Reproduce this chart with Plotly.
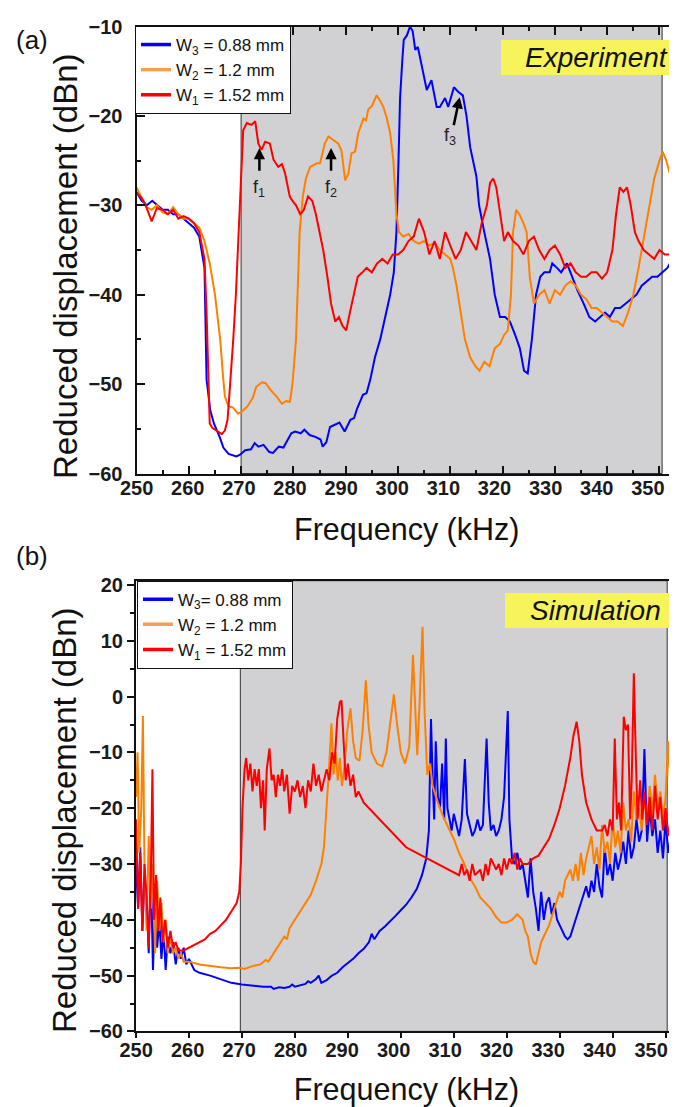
import plotly.graph_objects as go

# ---------------- data (frequency kHz, reduced displacement dBn) ----------------
exp_w3 = [(250,-28.5),(251,-29.5),(252,-30),(253,-29.5),(254,-30),(255,-30.5),(256,-30.5),(257,-31),(258,-31),(259,-31.5),
          (260,-32),(261,-32.5),(262,-33.5),(263,-37),(263.4,-49.5),(264.1,-52.9),(264.8,-54.4),(265.9,-55.9),(266.6,-57.1),
          (267.6,-57.8),(269.1,-58.1),(269.8,-57.9),(270.8,-57.4),(271.9,-57.3),(272.6,-56.6),(273.3,-57),(274.3,-56.8),
          (275.4,-57.6),(276.1,-57.7),(277.2,-57),(278.1,-57.1),(278.6,-56.6),(279.6,-55.5),(280.3,-55.3),(281.4,-55.5),
          (282.1,-55.1),(283.1,-55.7),(284.2,-55.9),(285.2,-56.2),(285.6,-57),(286.3,-56.5),(287,-54.8),(288.8,-54.3),
          (289.8,-55.3),(290.9,-54),(291.6,-53.8),(292.2,-52.7),(293.3,-51.2),(294,-51),(294.7,-49.5),(295.6,-47),(296.6,-45),
          (297.5,-42.5),(298.5,-40),(299.2,-37.5),(299.7,-33),(300.1,-25),(300.4,-18),(300.8,-14),(301.1,-11.5),(301.7,-11),
          (302.3,-10),(302.8,-10.5),(303.3,-12.6),(303.8,-12.3),(304.6,-14.5),(305.5,-17.1),(306.4,-16),(307.4,-19),(308,-19),
          (309,-18),(309.6,-19),(310.7,-16.8),(311.5,-17.3),(312.4,-17.7),(313.1,-20),(313.8,-23.5),(315,-26.8),(315.5,-30),
          (316.5,-33),(317.6,-36),(318.5,-40),(319.5,-42.5),(320.5,-42.5),(321.4,-43),(322.4,-44.5),(323.3,-46),(324.1,-48.5),
          (324.8,-48.8),(325.6,-45),(326.4,-40),(327.2,-38),(328,-37.5),(329,-37.5),(329.5,-36.5),(330.4,-37),(331.2,-37.5),
          (332.3,-36.5),(333.3,-38),(334.3,-39.5),(335.5,-41),(336.6,-42.5),(337.7,-43),(338.6,-42.5),(339.6,-42),(340.5,-42.5),
          (341.5,-41.5),(342.5,-41.5),(343.5,-41),(344.6,-40.5),(345.6,-40),(346.6,-39),(347.6,-38.5),(348.6,-38),(349.6,-38),
          (350.5,-37.5),(351.5,-37),(352.5,-36),(353.4,-34.5)]

exp_w2 = [(250,-28),(251,-29.2),(251.9,-30.2),(252.9,-30.5),(253.9,-30),(255,-30.8),(256,-31),(257,-30.2),(258,-31),(259,-31.5),
          (260,-31.5),(261,-32),(262,-32.5),(263,-34),(264,-36.5),(265,-40),(266,-45),(266.6,-49.5),(266.9,-51.4),(267.6,-52.5),
          (268.4,-52.6),(269.4,-53.3),(270.1,-53.1),(271.2,-52.5),(272.2,-51.6),(272.9,-50.3),(274,-49.8),(274.7,-49.9),
          (275.7,-50.7),(276.8,-51.4),(277.8,-52.2),(278.6,-51.9),(279.3,-52),(279.6,-51),(279.9,-49.5),(280.5,-45),(280.9,-38),
          (281.2,-33),(281.8,-29),(282.4,-27),(283.2,-25.7),(283.8,-25.5),(284.5,-25.3),(285.1,-25.3),(286,-23.1),(286.7,-22.3),
          (287.6,-22.7),(288.6,-23.1),(289.2,-23.9),(289.9,-27.2),(290.5,-26.5),(291.1,-24.2),(291.8,-24),(292.4,-21.9),
          (293.4,-20.3),(293.9,-20.5),(294.3,-19.3),(295,-18.9),(295.9,-17.7),(296.6,-18.3),(297.2,-19),(297.8,-20.1),
          (298.5,-21.9),(299.1,-24.9),(299.4,-27.8),(299.7,-31),(300.2,-33),(301,-33.5),(302,-33.2),(303,-34),(304,-34.3),
          (305,-34),(306,-34.5),(307,-34.2),(308,-35),(309,-35.5),(310,-36),(310.5,-37),(311.2,-39),(312,-42),(312.8,-45),
          (313.8,-47),(314.8,-48),(315.6,-48.5),(316.5,-47.5),(317.5,-48),(318.5,-46),(319.5,-45.5),(320.3,-44.5),(321,-44),
          (321.6,-40),(322,-33),(322.6,-30.5),(323.2,-31),(324,-32),(324.6,-33),(325.2,-38),(326,-41),(327,-40),(328,-39.5),
          (329,-41),(330,-39.5),(331,-40),(332,-39),(333,-38.5),(334,-39),(335,-40),(336,-40.5),(337,-41.5),(338,-41.5),
          (339,-42),(340,-42.5),(341,-43),(342,-43),(343,-43.5),(344,-42),(345,-40),(346,-37),(347,-33.5),(348,-30),
          (349,-27),(350,-25),(350.6,-24),(351.3,-25),(352,-26.5),(352.6,-27.2),(353.4,-28)]

exp_w1 = [(250,-28.6),(251,-29.2),(251.6,-29.8),(252.9,-31.8),(253.9,-30.3),(255,-30.5),(256,-31),(257,-30.5),(258,-31.5),
          (259,-31.2),(260,-31.5),(261,-32),(262,-33),(263,-36),(263.4,-42),(263.8,-52.5),(264,-54.4),(264.5,-54.9),
          (265.5,-55.3),(266.3,-55.6),(266.9,-55.2),(267.4,-54),(267.6,-52.5),(268,-49.5),(268.5,-45),(269,-40),(269.4,-35),
          (269.8,-29.4),(270.1,-24.6),(270.4,-21.6),(271.1,-20.8),(272,-21),(272.7,-20.6),(273.3,-23.1),(273.9,-23.8),
          (274.6,-22.9),(275.5,-23.1),(276.2,-24.9),(277.1,-25.7),(277.8,-25.4),(278.4,-26.4),(279.3,-29),(279.7,-29.4),
          (280.5,-30),(281.3,-31),(282,-30.5),(282.8,-29),(283.6,-29.5),(284.3,-31),(285,-33),(285.7,-35),(286.5,-38),
          (287.2,-41),(288,-43),(288.7,-42.5),(289.4,-43.5),(290.1,-44),(290.8,-42),(291.5,-40),(292.3,-38),(293.2,-37.5),
          (294,-37),(295,-37.5),(296,-36.5),(297,-36),(298,-36.5),(299,-35.5),(300,-35.5),(301,-35),(302,-34),(303,-33.5),
          (304,-31.5),(305,-33),(306,-35.5),(307,-34),(308,-36),(309,-33),(310,-34.5),(311,-36),(312,-35),(313,-33),(314,-34),
          (315,-35),(316,-32),(317,-30),(317.6,-27.5),(318.2,-27),(318.8,-28),(319.5,-31),(320.3,-34),(321,-33),(322,-34),
          (323,-34.5),(324,-35.5),(325,-34),(326,-33.5),(327,-35),(328,-36),(329,-35),(330,-34.5),(331,-35.5),(332,-37),
          (333,-36.5),(334,-37.5),(335,-38),(336,-38),(337,-37.5),(338,-37.5),(339,-38.2),(340,-37.5),(341,-35),(341.7,-31),
          (342.4,-28),(343.1,-28.5),(343.8,-28),(344.5,-30),(345.3,-33),(346,-34),(347,-35),(348,-35.5),(349,-36),(350,-35),
          (351,-35.5),(352,-35.5),(353.4,-35.5)]

sim_w3 = [(250,-30),(250.4,-38),(250.8,-27),(251.2,-42),(251.6,-33),(252,-36),(252.4,-46),(252.8,-30),(253.2,-49),(253.6,-38),
          (254,-45),(254.4,-40),(254.8,-47),(255.2,-42),(255.6,-49),(256,-43),(256.5,-46),(257,-44),(257.5,-48),(258,-45),
          (258.5,-47),(259,-45),(259.5,-48),(260,-47),(261,-49),(262,-49.5),(264,-50),(266,-50.7),(268,-51.3),(270,-51.6),
          (272,-51.8),(274,-52),(275.5,-52),(276,-52.4),(277,-52.1),(278,-52.2),(279,-52),(279.5,-51.6),(280,-52),(281,-51.8),
          (282,-51.5),(282.5,-51),(283,-51.3),(284,-50.6),(284.5,-50),(285,-51.3),(286,-50.8),(287,-50),(288,-49.5),(289,-48.5),
          (290,-47.8),(291,-47),(292,-46),(293,-45.2),(294,-44),(294.5,-42.5),(295,-43.5),(296,-42),(297,-41.2),(298,-40.3),
          (299,-39.3),(300,-38.3),(301,-37.3),(302,-36),(303,-34.5),(304,-32),(304.8,-29),(305.3,-24),(305.7,-4),(306,-14),
          (306.3,-22),(306.6,-8),(307,-18),(307.4,-20),(307.8,-12),(308.2,-22),(308.5,-7.5),(308.8,-20),(309.2,-22),(309.6,-24),
          (310,-21),(310.5,-23),(311,-25),(311.5,-22),(312.1,-11.2),(312.5,-21),(313,-23),(313.5,-25),(314,-24),(314.5,-22),
          (315,-24),(315.5,-23),(316.2,-7.5),(316.6,-19),(317,-24),(317.5,-23),(318,-25),(318.5,-24),(319,-22),(319.5,-18),
          (320.2,-2.6),(320.5,-22),(321,-29),(321.5,-30),(322,-28),(322.5,-31),(323,-30),(323.5,-33),(324,-36),(324.5,-29),
          (325,-35),(325.5,-38),(326,-42),(326.5,-35),(327,-40),(327.5,-37),(328,-36),(328.5,-39),(329,-37),(329.5,-40),
          (330,-41),(331,-43),(331.5,-43.5),(332,-43),(333,-40),(334,-37),(335,-34),(335.5,-36),(336,-33),(336.5,-35),
          (337,-30),(337.5,-34),(338,-36),(338.5,-27),(339,-32),(339.5,-30),(340,-33),(340.5,-28),(341,-31),(341.5,-29),
          (342,-26),(342.5,-30),(343,-24),(343.5,-29),(344,-27),(344.5,-22),(345,-26),(345.5,-24),(346,-9.4),(346.5,-26),
          (347,-20),(347.5,-25),(348,-22),(348.5,-28),(349,-24),(349.5,-29),(350,-22),(350.5,-28),(351,-25),(351.5,-22),(352.2,-24)]

sim_w2 = [(250,-18),(250.3,-10),(250.6,-28),(251,-20),(251.3,-3.5),(251.6,-30),(252,-42),(252.4,-25),(252.8,-38),(253.2,-30),
          (253.6,-46),(254,-33),(254.4,-42),(254.8,-37),(255.2,-44),(255.6,-40),(256,-46),(256.5,-43),(257,-46),(257.5,-45),
          (258,-47),(258.5,-46),(259,-47.5),(260,-47.5),(262,-48),(264,-48.3),(266,-48.5),(268,-48.7),(269.5,-48.6),
          (270.5,-48.8),(272,-48.3),(273.5,-48),(274.5,-47.2),(275,-47.5),(276,-46),(277,-44.5),(278,-43),(278.5,-43.5),
          (279,-41.5),(280,-40),(281,-38.5),(282,-37),(283,-35.5),(284,-33),(285,-30),(285.5,-27),(286,-20),(286.5,-12),
          (286.9,-4.8),(287.3,-14),(287.7,-10),(288.1,-15),(288.5,-11),(288.9,-16),(289.4,-12),(289.9,-6),(290.5,-2.1),
          (291,-8),(291.5,-11),(292.2,-11.5),(292.8,-6),(293.4,2.9),(293.9,-5),(294.5,-10),(295.5,-12),(296.5,-12.5),
          (297.3,-10),(298,-5),(298.7,0.4),(299.3,-5),(300,-10),(300.8,-12),(301.6,-9),(302.3,7.5),(302.7,-3),(303.1,-10.5),
          (303.6,0),(304.1,12.5),(304.5,-3),(305,-14),(305.5,-12),(306,-16),(307,-19),(308,-21.5),(309,-23.5),(310,-25.5),
          (311,-28),(312,-30),(313,-32.5),(314,-34),(315,-36),(316,-37),(317,-38),(318,-39.5),(319,-40.5),(320,-40.5),
          (321,-40),(322,-39),(323,-40),(323.5,-42),(324,-43),(324.5,-46),(325,-47.5),(325.5,-48),(326,-46),(326.5,-44),
          (327,-43),(328,-41),(329,-38),(330,-35),(330.5,-36),(331,-33),(332,-31),(332.5,-33),(333,-30),(333.5,-33),(334,-28),
          (334.5,-32),(335,-29),(336,-25),(336.5,-30),(337,-27),(337.5,-31),(338,-23),(338.5,-28),(339,-26),(339.5,-30),
          (340,-22),(340.5,-27),(341,-24),(341.5,-28),(342,-19),(342.5,-24),(343,-22),(343.5,-26),(344,-17),(344.5,-22),
          (345,-20),(345.5,-24),(346,-18),(346.5,-22),(347,-16),(347.5,-21),(348,-14),(348.5,-20),(349,-17),(349.5,-22),
          (350,-18),(350.5,-8),(351,-19),(351.5,-12),(352,-1),(352.2,-6)]

sim_w1 = [(250,-22),(250.4,-38),(250.8,-28),(251.2,-42),(251.6,-30),(252,-36),(252.4,-45),(252.8,-32),(253.1,-13),(253.4,-40),
          (253.8,-32),(254.2,-42),(254.6,-36),(255,-44),(255.5,-40),(256,-45),(256.5,-42),(257,-45),(257.5,-44),(258,-45.5),
          (259,-45.5),(260,-45),(261,-44.5),(262,-44),(263,-43.5),(264,-42.5),(265,-42),(266,-41),(267,-40),(268,-38.5),
          (269,-37),(269.5,-35),(269.8,-30),(270.1,-20),(270.5,-13),(270.8,-11),(271.2,-15),(271.6,-12),(272,-17),(272.4,-13),
          (272.8,-16),(273.2,-13),(273.6,-20),(274,-15),(274.3,-24),(274.7,-13),(275.2,-9.3),(275.6,-15),(276,-14),(276.4,-18),
          (276.8,-14),(277.2,-16),(277.6,-13),(278,-17),(278.5,-14),(279,-21),(279.5,-16),(280,-17),(280.5,-15),(281,-18),
          (281.5,-16),(282,-20),(282.5,-15),(283,-17),(283.5,-12),(284,-16),(284.5,-14),(285,-17),(285.5,-15),(286,-13),
          (286.5,-15),(287,-10),(287.5,-12),(288,-4),(288.5,-1),(288.8,-0.7),(289.2,-8),(289.6,-15),(290,-12),(290.5,-16),
          (291,-14),(291.5,-18),(292,-17),(293,-19),(294,-20),(295,-21),(296,-22),(297,-23),(298,-24),(299,-25),(300,-26),
          (301,-27),(302,-27.5),(303,-28),(304,-28.5),(305,-29),(306,-29.5),(307,-30),(308,-30.5),(309,-31),(310,-31.5),
          (311,-32),(311.5,-30),(312,-32),(312.5,-31),(313,-33),(313.5,-30),(314,-32),(315,-31),(315.5,-33),(316,-30),
          (316.5,-32),(317,-29),(318,-31),(318.5,-30),(319,-32),(319.5,-29),(320,-31),(320.5,-29),(321,-30),(321.5,-28),
          (322,-31),(322.5,-29),(323,-30),(324,-30),(325,-29),(326,-28.5),(327,-27),(328,-25.5),(329,-23),(330,-20),(331,-16),
          (332,-11),(332.6,-7),(333.2,-4.5),(333.7,-8),(334.2,-14),(335,-19),(336,-22),(337,-24),(338,-24),(338.5,-23),
          (339,-25),(339.5,-22),(340,-24),(340.4,-7.5),(340.8,-22),(341.2,-19),(341.6,-24),(342.1,-3.6),(342.5,-6),(342.9,-5),
          (343.3,-22),(343.6,-15),(344,4.2),(344.3,-8),(344.7,-22),(345.2,-15),(345.6,-22),(346,-17),(346.5,-23),(347,-18),
          (347.5,-24),(348,-16),(348.5,-22),(349,-18),(349.5,-24),(350,-20),(350.5,-25),(351,-22),(351.5,-27),(352,-30),(352.2,-29)]

legend_names = ["W<sub>3</sub> = 0.88 mm", "W<sub>2</sub> = 1.2 mm", "W<sub>1</sub> = 1.52 mm"]
legend_names_b = ["W<sub>3</sub>= 0.88 mm", "W<sub>2</sub> = 1.2 mm", "W<sub>1</sub> = 1.52 mm"]
line_colors = ["#0000FF", "#FF8000", "#FF0000"]
legend_colors = ["#0000FF", "#F0A050", "#FF0000"]
x_ticks = [250, 260, 270, 280, 290, 300, 310, 320, 330, 340, 350]
y_ticks_a = [-60, -50, -40, -30, -20, -10]
y_ticks_b = [-60, -50, -40, -30, -20, -10, 0, 10, 20]
band_a = (270, 350.5)
band_b = (269.7, 350.3)
arrows = [("f<sub>1</sub>", 273.5, -23.6, 273.5, -26.3, 273.5, -26.6),
          ("f<sub>2</sub>", 287.2, -23.6, 287.2, -26.3, 287.2, -26.6),
          ("f<sub>3</sub>", 311.8, -17.9, 310.6, -21.2, 310.0, -20.8)]

# The page body has an 8 px margin: the figure is placed so that its content lands at the
# intended window positions.
OFF = 8
WIN_W, WIN_H = 677, 1107
W, H = WIN_W - OFF, WIN_H - OFF
FONT = "Liberation Sans, Arial, sans-serif"

def px(p):
    return (p - OFF) / W

def py(p):
    return 1 - (p - OFF) / H

fig = go.Figure()

def unzip(pairs):
    return [p[0] for p in pairs], [p[1] for p in pairs]

for series, col in zip([exp_w3, exp_w2, exp_w1], line_colors):
    xs, ys = unzip(series)
    fig.add_trace(go.Scatter(x=xs, y=ys, mode="lines", line=dict(color=col, width=2),
                             showlegend=False, xaxis="x", yaxis="y", hoverinfo="skip"))
for series, col in zip([sim_w3, sim_w2, sim_w1], line_colors):
    xs, ys = unzip(series)
    fig.add_trace(go.Scatter(x=xs, y=ys, mode="lines", line=dict(color=col, width=2),
                             showlegend=False, xaxis="x2", yaxis="y2", hoverinfo="skip"))
# legend entries
for name, col in zip(legend_names, legend_colors):
    fig.add_trace(go.Scatter(x=[None], y=[None], mode="lines", name=name, line=dict(color=col, width=3.5),
                             xaxis="x", yaxis="y", legend="legend"))
for name, col in zip(legend_names_b, legend_colors):
    fig.add_trace(go.Scatter(x=[None], y=[None], mode="lines", name=name, line=dict(color=col, width=3.5),
                             xaxis="x2", yaxis="y2", legend="legend2"))
# invisible anchors for the tick-label axes
for xa, ya in [("x3", "y"), ("x4", "y2")]:
    fig.add_trace(go.Scatter(x=[None], y=[None], mode="lines", showlegend=False, xaxis=xa, yaxis=ya,
                             hoverinfo="skip"))

tickfont = dict(family=FONT, size=20, color="#1a1a1a", weight="bold")
xtitlefont = dict(family=FONT, size=30.5, color="#111111")
ytitlefont = dict(family=FONT, size=33, color="#111111")

xa_dom = [px(136.5), 1]
ya_dom = [py(473.5), py(26.5)]
xb_dom = [px(136), 1]
yb_dom = [py(1031.4), py(580.7)]

# tick-label scales as printed in the reference (labels sit on a slightly compressed scale)
lab_a_left, lab_a_scale, lab_a_dom = 136.6, 5.113, 136.5   # px of label "250", px per kHz, axis start px
lab_b_left, lab_b_scale, lab_b_dom = 136.1, 5.15, 136.0

axis_common = dict(showgrid=False, zeroline=False, showline=True, linecolor="#111", linewidth=2,
                   tickcolor="#111", automargin=False)
label_axis = dict(showgrid=False, zeroline=False, showline=False, ticks="", tickvals=x_ticks,
                  tickfont=tickfont, automargin=False, fixedrange=True)

fig.update_layout(
    width=W, height=H, margin=dict(l=0, r=0, t=0, b=0, autoexpand=False),
    paper_bgcolor="white", plot_bgcolor="rgba(0,0,0,0)",
    xaxis=dict(domain=xa_dom, range=[250, 353.35], anchor="y", mirror="ticks", ticks="inside", ticklen=8,
               tickwidth=1.5, tickvals=x_ticks, showticklabels=False,
               minor=dict(dtick=5, tick0=250, ticks="inside", ticklen=4, tickcolor="#111"), **axis_common),
    xaxis3=dict(domain=[px(lab_a_dom), 1],
                range=[250 + (lab_a_dom - lab_a_left) / lab_a_scale, 250 + (WIN_W - lab_a_left) / lab_a_scale],
                anchor="y", side="bottom",
                title=dict(text="Frequency (kHz)", font=xtitlefont, standoff=21), **label_axis),
    yaxis=dict(domain=ya_dom, range=[-60, -10], anchor="x", tickvals=y_ticks_a, ticks="inside", ticklen=8,
               tickwidth=1.5, minor=dict(dtick=5, tick0=-60, ticks="inside", ticklen=4, tickcolor="#111"),
               tickfont=tickfont, ticklabelstandoff=8, **axis_common),
    xaxis2=dict(domain=xb_dom, range=[250, 352.15], anchor="y2", mirror=True, ticks="outside", ticklen=5,
                tickwidth=1.5, tickvals=x_ticks, showticklabels=False, **axis_common),
    xaxis4=dict(domain=[px(lab_b_dom), 1],
                range=[250 + (lab_b_dom - lab_b_left) / lab_b_scale, 250 + (WIN_W - lab_b_left) / lab_b_scale],
                anchor="y2", side="bottom", ticklabelstandoff=5,
                title=dict(text="Frequency (kHz)", font=xtitlefont, standoff=18), **label_axis),
    yaxis2=dict(domain=yb_dom, range=[-60, 20.77], anchor="x2", tickvals=y_ticks_b, ticks="outside", ticklen=7,
                tickwidth=1.5, minor=dict(dtick=5, tick0=-60, ticks="outside", ticklen=4, tickcolor="#111"),
                tickfont=tickfont, **axis_common),
    legend=dict(x=px(135), y=py(26), xanchor="left", yanchor="top", bgcolor="white", bordercolor="#111",
                borderwidth=1, font=dict(family=FONT, size=17, color="#111"), tracegroupgap=0),
    legend2=dict(x=px(137), y=py(580.7), xanchor="left", yanchor="top", bgcolor="white", bordercolor="#111",
                 borderwidth=1, font=dict(family=FONT, size=17, color="#111"), tracegroupgap=0),
)

# y-axis titles (placed as in the reference, slightly below the axis centre)
for yc in (266, 820):
    fig.add_annotation(xref="paper", yref="paper", x=px(65), y=py(yc), text="Reduced displacement (dBn)",
                       textangle=-90, showarrow=False, xanchor="center", yanchor="middle", font=ytitlefont)

# shaded bands
for (x0, x1), xr, yr in [(band_a, "x", "y domain"), (band_b, "x2", "y2 domain")]:
    fig.add_shape(type="rect", xref=xr, yref=yr, x0=x0, x1=x1, y0=0, y1=1, fillcolor="#D1D0D2",
                  line=dict(color="#333", width=1), layer="below")

# yellow labels
for x0, y0, y1, text, xc in [(501, 40, 75, "Experiment", 596.5), (505, 593, 628, "Simulation", 595.5)]:
    fig.add_shape(type="rect", xref="paper", yref="paper", x0=px(x0), x1=1,
                  y0=py(y1), y1=py(y0), fillcolor="#F7F35A", line=dict(width=0), layer="above")
    fig.add_annotation(xref="paper", yref="paper", x=px(xc), y=py((y0 + y1) / 2), text=text, showarrow=False,
                       font=dict(family=FONT, size=28, color="#111", style="italic"), xanchor="center", yanchor="middle")

# panel labels
fig.add_annotation(xref="paper", yref="paper", x=px(32), y=py(40), text="(a)", showarrow=False,
                   font=dict(family=FONT, size=26, color="#111"), xanchor="center", yanchor="middle")
fig.add_annotation(xref="paper", yref="paper", x=px(32), y=py(556), text="(b)", showarrow=False,
                   font=dict(family=FONT, size=26, color="#111"), xanchor="center", yanchor="middle")

# resonance arrows
for label, xt, yt, xs, ys, xl, yl in arrows:
    fig.add_annotation(xref="x", yref="y", axref="x", ayref="y", x=xt, y=yt, ax=xs, ay=ys, text="",
                       showarrow=True, arrowhead=2, arrowsize=0.9, arrowwidth=2.5, arrowcolor="#000")
    fig.add_annotation(xref="x", yref="y", x=xl, y=yl, text=label, showarrow=False, yanchor="top",
                       font=dict(family=FONT, size=18, color="#222"))

fig.write_html("out.html")
